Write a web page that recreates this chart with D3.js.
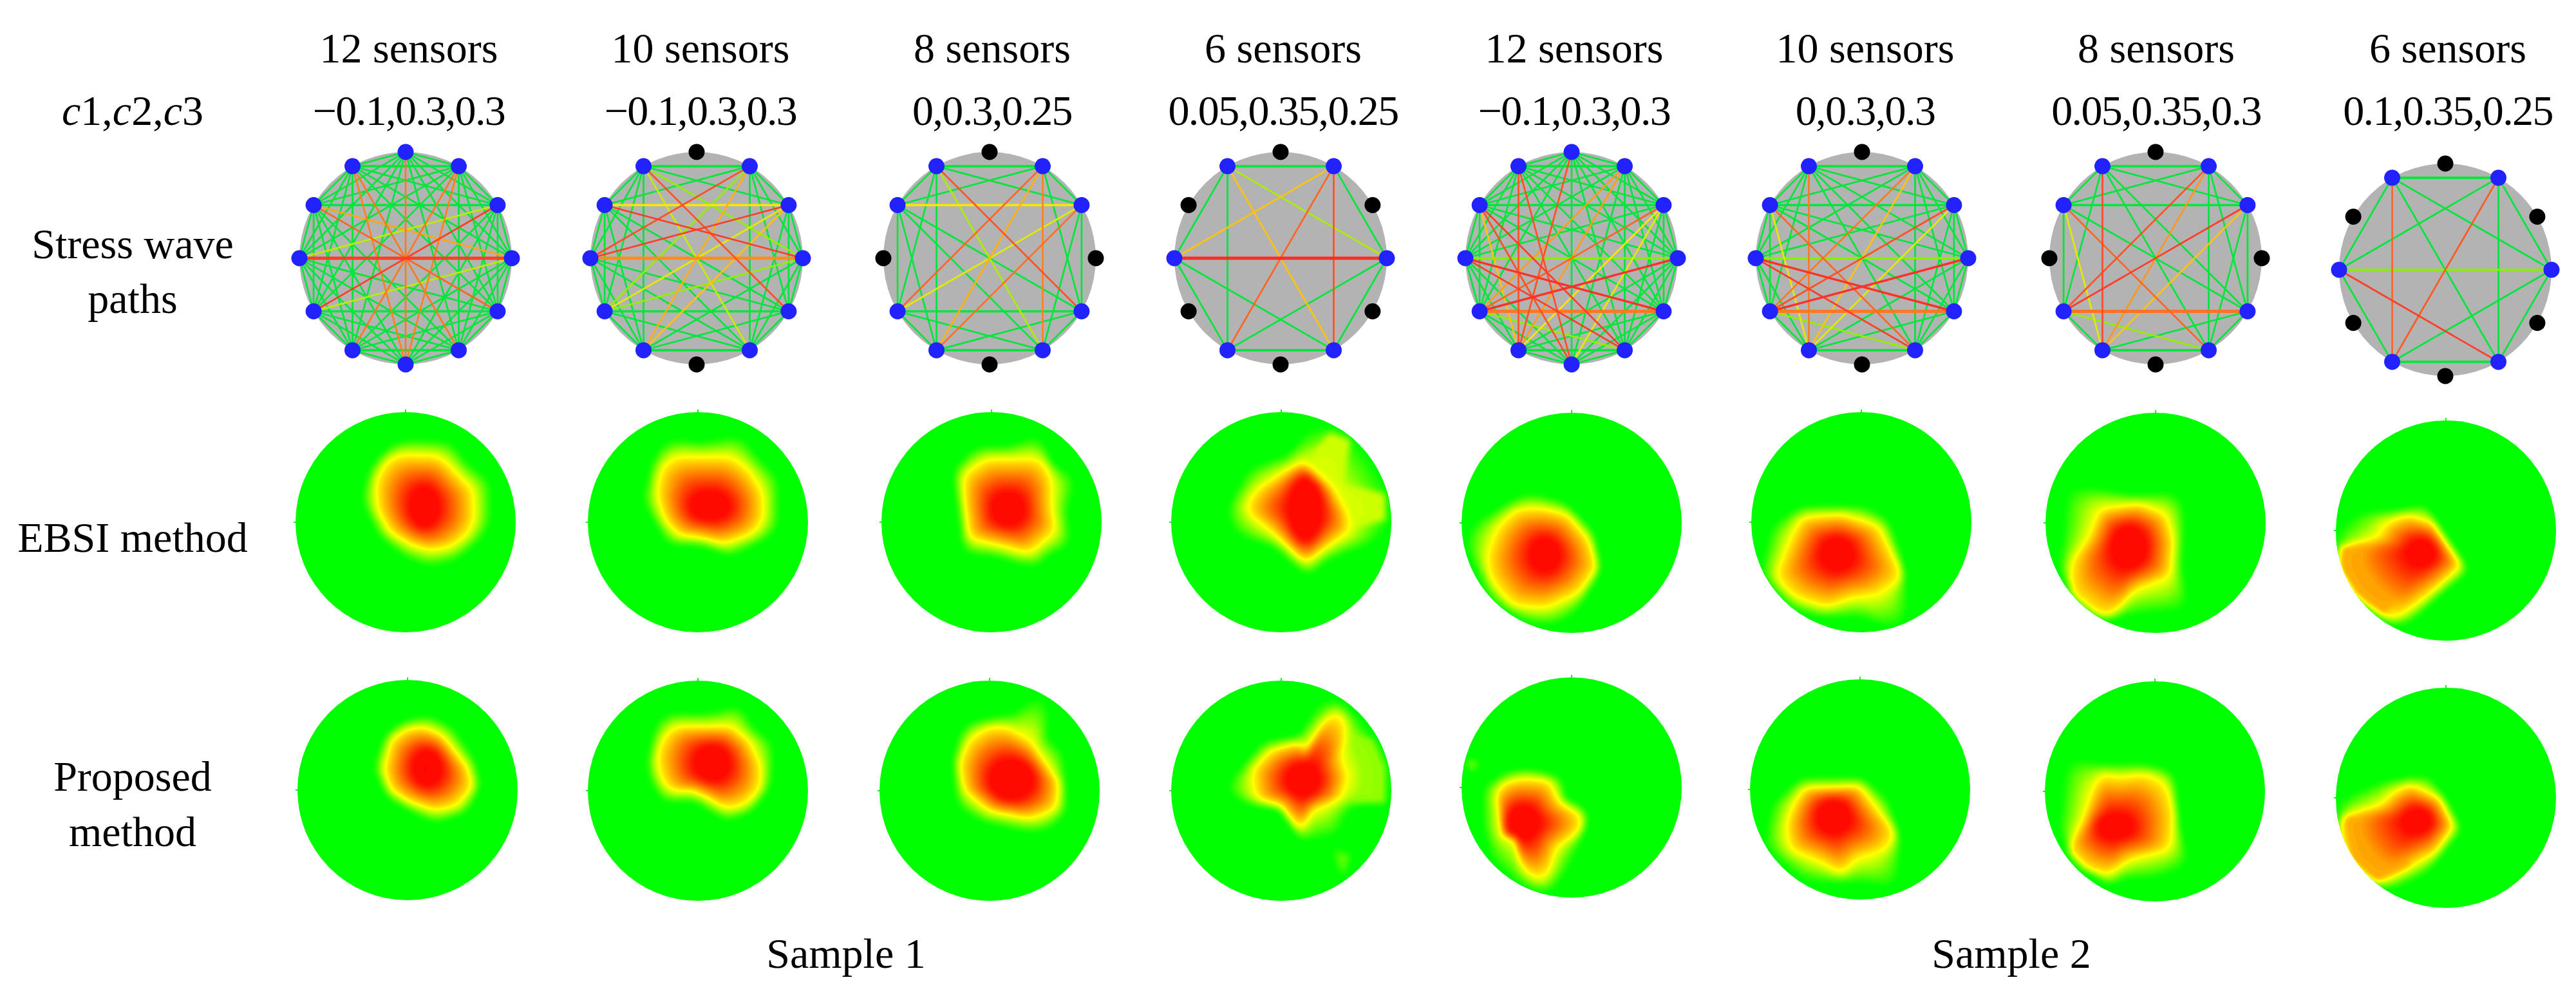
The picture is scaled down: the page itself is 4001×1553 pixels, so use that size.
<!DOCTYPE html>
<html><head><meta charset="utf-8">
<script src="https://cdn.jsdelivr.net/npm/d3@7"></script>
<style>html,body{margin:0;padding:0;background:#fff}svg{display:block}text{font-family:"Liberation Serif",serif;fill:#000}</style>
</head><body><div id="chart"></div>
<script>
// ---- text ----
const sensorLabels = ["12 sensors","10 sensors","8 sensors","6 sensors","12 sensors","10 sensors","8 sensors","6 sensors"];
const cLabels = ["−0.1,0.3,0.3","−0.1,0.3,0.3","0,0.3,0.25","0.05,0.35,0.25","−0.1,0.3,0.3","0,0.3,0.3","0.05,0.35,0.3","0.1,0.35,0.25"];
const rowLabels = [["Stress wave","paths"],["EBSI method"],["Proposed","method"]];
const sampleLabels = ["Sample 1","Sample 2"];
// ---- sensors switched off in each panel (0 = top, clockwise) ----
const idleSensors = [[],[0,6],[0,3,6,9],[0,2,4,6,8,10],[],[0,6],[0,3,6,9],[0,2,4,6,8,10]];
// ---- paths that are not green: [sensor a, sensor b, velocity drop 0..1] ----
const hotPaths = [
 [[3,9,.95],[0,6,.8],[1,7,.8],[11,5,.8],[2,8,.95],[10,4,.85],[10,3,.68],[2,9,.38],[3,8,.38],[11,6,.78],[1,6,.78]],
 [[2,10,.5],[3,9,.75],[10,3,.95],[2,9,.95],[11,4,.9],[1,8,.3],[1,7,.65],[1,9,.9],[11,5,.4],[2,8,.45],[3,8,.3],[2,7,.6],[11,3,.3]],
 [[10,2,.5],[11,4,.9],[1,8,.85],[1,7,.65],[1,5,.78],[2,8,.45],[2,7,.82],[11,5,.35]],
 [[9,3,1],[9,1,.6],[11,3,.35],[11,5,.6],[1,7,.85],[1,5,.9]],
 [[3,9,.28],[4,8,.8],[9,4,.98],[3,8,.98],[10,5,.95],[2,8,.85],[9,5,.95],[11,7,.9],[11,6,.9],[0,7,.9],[1,7,.7],[1,8,.7],[2,7,.5],[8,5,.3],[2,6,.45],[10,6,.9],[10,7,.6]],
 [[3,9,.28],[4,8,.8],[9,4,.98],[3,8,.98],[2,8,.9],[10,5,.85],[9,5,.95],[11,7,.8],[1,7,.6],[1,8,.8],[2,7,.45],[10,7,.45],[8,5,.3]],
 [[2,8,.95],[4,8,.82],[8,5,.3],[10,7,.45],[11,7,.92],[10,5,.85],[1,7,.72],[1,8,.9],[2,7,.6]],
 [[11,7,.85],[1,7,.88],[9,5,.95],[9,3,.28]]
];
// ---- heat outlines, in units of 1/100 of the disc radius, panels: EBSI 1-8 then Proposed 1-8 ----
// core: [centre x, centre y, half width, half height]
const heatCores = [[17,-14,13,18],[11,-15,18,13],[15,-12,15,15],[22,-12,15,28],[-24,29,13,15],[-22,29,15,15],[-24,22,16,19],[-22,20,13,12],
                   [18,-20,13,16],[13,-25,16,16],[20,-10,20,18],[20,-10,15,15],[-44,32,15,15],[-24,25,15,15],[-36,32,16,11],[-26,21,13,11]];
const heatRings = [
 [[-7,-62],[30,-61],[44,-48],[62,-29],[63,-2],[57,11],[41,23],[22,26],[3,20],[-15,9],[-26,-11],[-28,-35],[-20,-54]],
 [[-21,-60],[30,-60],[47,-48],[60,-26],[60,-2],[50,11],[24,20],[-1,14],[-18,12],[-31,-2],[-38,-26],[-34,-50]],
 [[-5,-58],[45,-58],[55,-41],[55,-14],[59,8],[35,29],[5,21],[-21,15],[-26,-23],[-26,-44]],
 [[20,-56],[47,-32],[61,-7],[63,8],[37,26],[22,38],[3,20],[-10,8],[-34,-11],[-24,-29],[3,-47]],
 [[-27,-14],[-3,-8],[17,16],[24,41],[7,64],[-24,78],[-54,76],[-74,52],[-78,31],[-68,4],[-51,-13]],
 [[-55,-5],[-18,-8],[16,3],[26,23],[39,50],[16,66],[-8,69],[-32,78],[-62,68],[-79,50],[-66,17]],
 [[-14,-18],[10,-8],[17,16],[14,49],[-20,62],[-37,82],[-47,88],[-78,64],[-78,37],[-61,13],[-51,-13]],
 [[-36,-15],[-12,-8],[15,32],[-12,56],[-49,83],[-76,65],[-98,35],[-98,11],[-64,10],[-56,-7]],
 [[15,-58],[32,-50],[55,-21],[60,-3],[45,15],[25,19],[1,11],[-16,0],[-22,-18],[-16,-45],[-2,-56]],
 [[-21,-59],[30,-59],[47,-46],[58,-22],[57,-1],[43,13],[26,17],[9,7],[-7,0],[-24,1],[-34,-10],[-38,-31],[-32,-49]],
 [[14,-59],[37,-46],[64,-7],[61,17],[37,26],[0,19],[-24,0],[-28,-25],[-20,-46],[-3,-58]],
 [[14,-44],[30,-35],[37,-34],[41,-52],[37,-70],[49,-74],[61,-61],[54,-31],[61,-13],[54,8],[27,19],[20,37],[10,29],[0,14],[-24,7],[-27,-19],[-10,-37]],
 [[-44,-9],[-20,-7],[-10,14],[10,25],[10,38],[-14,55],[-20,77],[-30,86],[-47,71],[-51,49],[-64,44],[-69,5],[-61,-5]],
 [[-51,-2],[0,-4],[17,19],[34,40],[24,55],[-3,63],[-17,78],[-34,67],[-64,55],[-68,34],[-61,13]],
 [[-49,-17],[-32,-13],[-9,-17],[11,-7],[18,20],[15,53],[-22,62],[-43,77],[-63,71],[-80,53],[-66,26],[-56,-4]],
 [[-32,-13],[-5,0],[8,26],[-9,50],[-36,65],[-63,80],[-83,62],[-97,38],[-97,15],[-63,9],[-46,-7]]
];
const heatHalos = [
 [[-3,-76],[42,-74],[57,-53],[78,-38],[78,1],[68,17],[47,35],[24,41],[3,35],[-24,14],[-41,-20],[-34,-48],[-17,-68]],
 [[-28,-77],[3,-73],[40,-80],[57,-56],[74,-42],[74,5],[64,15],[30,32],[3,22],[-28,21],[-51,-20],[-41,-59]],
 [[-16,-69],[18,-70],[45,-81],[55,-53],[78,-41],[69,-11],[73,23],[52,29],[45,41],[25,39],[5,32],[-26,29],[-32,-23],[-36,-47]],
 [[37,-92],[61,-82],[84,-55],[98,-28],[98,5],[84,20],[57,29],[37,38],[27,51],[17,44],[-7,23],[-44,11],[-51,-11],[-30,-50],[7,-62],[24,-83]],
 [[-41,-28],[-7,-20],[20,7],[27,43],[7,79],[-14,94],[-41,91],[-74,70],[-98,19],[-91,1],[-61,-17]],
 [[-55,-15],[5,-15],[26,-2],[39,40],[43,92],[26,99],[5,86],[-35,87],[-62,80],[-93,47],[-82,2]],
 [[-81,-33],[-51,-32],[-17,-25],[20,-29],[27,-11],[24,43],[32,80],[0,82],[-34,85],[-41,92],[-68,73],[-88,43],[-84,1]],
 [[-19,-25],[1,5],[22,37],[-5,59],[-36,87],[-49,87],[-76,68],[-100,38],[-100,-1],[-80,-17],[-43,-19]],
 [[22,-68],[42,-57],[62,-27],[67,-3],[55,21],[25,31],[5,21],[-19,7],[-32,-21],[-19,-54],[1,-65]],
 [[-31,-71],[9,-71],[40,-79],[50,-58],[70,-43],[67,-4],[50,20],[26,29],[-4,10],[-34,11],[-48,-19],[-41,-55]],
 [[7,-68],[34,-73],[37,-91],[61,-79],[47,-55],[68,-34],[71,20],[54,37],[34,38],[-7,29],[-30,15],[-34,-28],[-24,-61]],
 [[41,-89],[64,-73],[84,-52],[98,-28],[98,8],[64,14],[54,32],[54,41],[17,47],[7,29],[-3,17],[-30,13],[-54,0],[-37,-21],[-17,-45],[17,-50],[30,-73]],
 [[-41,-18],[-7,-10],[-7,10],[17,20],[10,47],[-3,74],[-20,98],[-41,92],[-71,71],[-81,35],[-81,-1],[-61,-14]],
 [[-54,-11],[3,-11],[27,10],[37,46],[34,97],[17,85],[-41,85],[-54,82],[-88,52],[-81,13]],
 [[-80,-32],[-49,-25],[-16,-26],[18,-20],[22,26],[32,68],[1,79],[-32,80],[-39,89],[-73,62],[-88,35],[-83,-13]],
 [[-16,-21],[1,2],[15,29],[-16,68],[-49,84],[-63,83],[-97,47],[-100,2],[-56,-16]]
];
// plateaus: [value, outline]
const heatPatches = {
 3:[[.42,[[27,-63],[44,-82],[63,-75],[57,-35],[95,-26],[95,-2],[64,6],[44,-28]]]],
 7:[[.68,[[-96,14],[-56,11],[-49,47],[-42,59],[-56,77],[-83,59],[-96,35]]]],
 11:[[.3,[[57,-58],[84,-46],[95,-21],[95,11],[64,11],[57,-19]]],[.18,[[49,53],[63,59],[57,77],[51,68]]]],
 12:[[.2,[[-95,-26],[-84,-23],[-88,-16],[-95,-17]]]],
 15:[[.68,[[-93,17],[-59,14],[-42,41],[-32,62],[-63,77],[-87,56]]]]
};
// ---- layout ----
const W=4001,H=1553;
const pathCenters=[[630,401],[1082,401],[1537,401],[1989,401],[2441,401],[2892,401],[3348,401],[3798,419]];
const heatCenters=[[630,811],[1084,811],[1540,811],[1990,811],[2441,812],[2891,811],[3348,812],[3799,824],
                   [633,1227],[1084,1228],[1537,1228],[1990,1228],[2441,1223],[2889,1226],[3347,1229],[3799,1239]];
const headerX=[635,1088,1541,1993,2445,2897,3349,3802];
const DISC=165, HEAT=171;

const svg=d3.select("#chart").append("svg").attr("width",W).attr("height",H).attr("viewBox",[0,0,W,H]);
svg.append("rect").attr("width",W).attr("height",H).attr("fill","#fff");
const FS=66;
function label(x,y,t,anchor="middle"){return svg.append("text").attr("x",x).attr("y",y).attr("text-anchor",anchor).attr("font-size",FS).text(t);}
sensorLabels.forEach((t,i)=>label(headerX[i],97,t));
cLabels.forEach((t,i)=>label(headerX[i],194,t).attr("letter-spacing",-1.6));
const cl=svg.append("text").attr("x",206).attr("y",194).attr("text-anchor","middle").attr("font-size",FS);
[["c",1],["1,",0],["c",1],["2,",0],["c",1],["3",0]].forEach(([s,it])=>cl.append("tspan").attr("font-style",it?"italic":"normal").text(s));
[[401,486],[857],[1228,1314]].forEach((ys,r)=>ys.forEach((y,k)=>label(206,y,rowLabels[r][k])));
label(1314,1503,sampleLabels[0]); label(3124,1503,sampleLabels[1]);

// ---- stress wave panels ----
const angle=d3.scaleLinear().domain([0,12]).range([-Math.PI/2,1.5*Math.PI]);
const pathColor=d3.scaleLinear().domain([0,.3,.5,.75,1]).range(["#00e63c","#90f000","#ffe600","#ff8c20","#ff2a2a"]);
pathCenters.forEach(([cx,cy],p)=>{
  const g=svg.append("g").attr("transform",`translate(${cx},${cy})`);
  const pos=i=>[DISC*Math.cos(angle(i)),DISC*Math.sin(angle(i))];
  g.append("circle").attr("r",DISC).attr("fill","#b3b3b3");
  const active=d3.range(12).filter(i=>!idleSensors[p].includes(i));
  const hot=new Map();
  hotPaths[p].forEach(([a,b,v])=>hot.set(Math.min(a,b)+"-"+Math.max(a,b),v));
  const pairs=[];
  active.forEach((a,i)=>active.slice(i+1).forEach(b=>pairs.push({a,b,v:hot.get(a+"-"+b)||0})));
  pairs.sort((m,n)=>m.v-n.v);
  g.selectAll("line.path").data(pairs).join("line").attr("class","path")
    .attr("x1",d=>pos(d.a)[0]).attr("y1",d=>pos(d.a)[1]).attr("x2",d=>pos(d.b)[0]).attr("y2",d=>pos(d.b)[1])
    .attr("stroke",d=>pathColor(d.v))
    .attr("stroke-width",d=>Math.abs(pos(d.a)[1]-pos(d.b)[1])<1?(d.v>.7?5:3.6):(d.v>.97?3.4:2.7));
  g.selectAll("ellipse").data(d3.range(12)).join("ellipse")
    .attr("cx",d=>pos(d)[0]).attr("cy",d=>pos(d)[1]).attr("rx",12.5).attr("ry",12.5)
    .attr("fill",d=>active.includes(d)?"#2222ff":"#000");
});

// ---- heat panels ----
const heatColor=d3.scaleLinear().domain([0,.5,1]).range(["#00ff00","#ffff00","#ff0000"]);
const BINS=240;
function radiusTable(poly,c){
  let t=new Array(BINS).fill(0);
  for(let b=0;b<BINS;b++){
    const a=2*Math.PI*b/BINS,dx=Math.cos(a),dy=Math.sin(a);
    poly.forEach((A,i)=>{
      const B=poly[(i+1)%poly.length];
      const ex=B[0]-A[0],ey=B[1]-A[1],den=dx*ey-dy*ex;
      if(Math.abs(den)<1e-9)return;
      const s=((A[0]-c[0])*ey-(A[1]-c[1])*ex)/den,u=((A[0]-c[0])*dy-(A[1]-c[1])*dx)/den;
      if(s>0&&u>=0&&u<=1&&s>t[b])t[b]=s;
    });
  }
  for(let pass=0;pass<2;pass++){const o=t;t=o.map((_,b)=>{let m=0;for(let k=-4;k<=4;k++)m+=o[(b+k+BINS)%BINS];return m/9;});}
  return t;
}
function inside(poly,x,y){let c=false;for(let i=0,j=poly.length-1;i<poly.length;j=i++){
  const [xi,yi]=poly[i],[xj,yj]=poly[j];
  if((yi>y)!==(yj>y)&&x<(xj-xi)*(y-yi)/(yj-yi)+xi)c=!c;}return c;}
const N=170,EXT=106,cell=2*EXT/N;
const thresholds=d3.range(.02,1.001,.02);
const contourGen=d3.contours().size([N,N]).thresholds(thresholds);
const geo=d3.geoPath();
heatCenters.forEach(([cx,cy],p)=>{
  const [kx,ky,krx,kry]=heatCores[p],c=[kx,ky];
  const rt=radiusTable(heatRings[p],c),ht=radiusTable(heatHalos[p],c);
  const patches=heatPatches[p]||[];
  const grid=new Float64Array(N*N);
  for(let j=0;j<N;j++)for(let i=0;i<N;i++){
    const x=-EXT+(i+.5)*cell,y=-EXT+(j+.5)*cell;
    const dx=x-c[0],dy=y-c[1],r=Math.hypot(dx,dy),a=Math.atan2(dy,dx);
    const b=((Math.round(a/(2*Math.PI)*BINS)%BINS)+BINS)%BINS;
    const R=rt[b],Rh=Math.max(ht[b],R+2);
    const Rc=Math.min(R*.7,1/Math.hypot(Math.cos(a)/krx,Math.sin(a)/kry));
    let v;
    if(r<=Rc)v=1;
    else if(r<=R)v=.5+.5*Math.pow((R-r)/(R-Rc),.9);
    else if(r<Rh)v=.5*Math.pow((Rh-r)/(Rh-R),1.05);
    else v=0;
    for(const [pv,poly] of patches) if(v<pv&&inside(poly,x,y))v=pv;
    grid[j*N+i]=v;
  }
  d3.blur2({data:grid,width:N,height:N},1.7);
  const sx=d3.scaleLinear().domain([-100,100]).range([cx-HEAT,cx+HEAT]);
  const sy=d3.scaleLinear().domain([-100,100]).range([cy-HEAT,cy+HEAT]);
  const id="clip"+p;
  svg.append("clipPath").attr("id",id).append("circle").attr("cx",cx).attr("cy",cy).attr("r",HEAT);
  svg.append("circle").attr("cx",cx).attr("cy",cy).attr("r",HEAT).attr("fill","#00ff00");
  [[cx,cy-HEAT-4,cx,cy-HEAT+1],[cx-HEAT-3,cy,cx-HEAT+1,cy]].forEach(q=>
    svg.append("line").attr("x1",q[0]).attr("y1",q[1]).attr("x2",q[2]).attr("y2",q[3]).attr("stroke","#00ff00").attr("stroke-width",2));
  const g=svg.append("g").attr("clip-path",`url(#${id})`)
    .append("g").attr("transform",`translate(${sx(-EXT)},${sy(-EXT)}) scale(${sx(-EXT+cell)-sx(-EXT)})`);
  g.selectAll("path").data(contourGen(grid)).join("path")
    .attr("d",geo).attr("fill",d=>heatColor(d.value));
});
</script></body></html>
